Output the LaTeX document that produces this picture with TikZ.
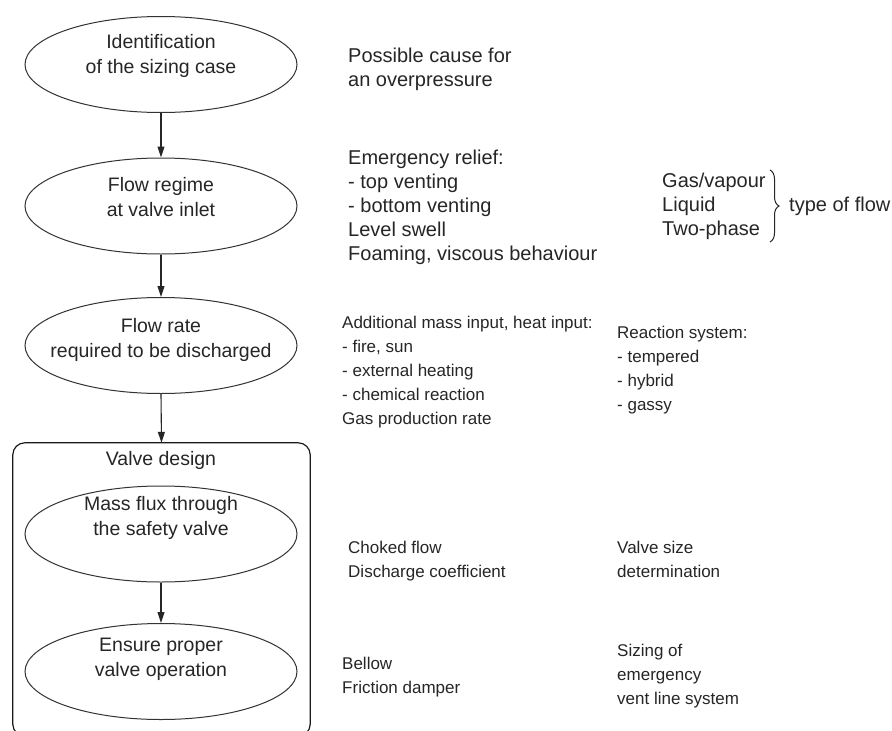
\documentclass[tikz,border=0pt]{standalone}
\usepackage{fontspec}
\setmainfont{Liberation Sans}
\usetikzlibrary{arrows.meta,calc,decorations.pathreplacing,shapes.geometric}
\begin{document}
\begin{tikzpicture}[x=1pt,y=-1pt,
  ell/.style={draw=black!80,line width=1pt,ellipse,minimum width=272pt,minimum height=96pt,inner sep=0pt},
  lbl/.style={align=center,font=\fontsize{19.5}{25}\selectfont,text=black!85,inner sep=0pt},
  note/.style={align=left,anchor=north west,font=\fontsize{20}{24}\selectfont,text=black!85,inner sep=0pt},
  smallnote/.style={note,font=\fontsize{17}{24}\selectfont},
  arr/.style={draw=black!85,line width=1.1pt,-{Triangle[length=11pt,width=7pt]}},
  frame/.style={draw=black!90,line width=1.2pt,rounded corners=12pt}]
\useasboundingbox (0,0) rectangle (892,731);
\fill[white] (0,0) rectangle (892,731);
% ellipses
\node[ell] (e1) at (161,64.5) {};
\node[ell] (e2) at (161,206) {};
\node[ell] (e3) at (161,345.5) {};
\node[ell] (e4) at (161,534) {};
\node[ell] (e5) at (161,671.5) {};
\node[lbl] (t1) at (161,56) {Identification\\of the sizing case};
\node[lbl] (t2) at (161,197) {Flow regime\\at valve inlet};
\node[lbl] (t3) at (161,339.5) {Flow rate\\required to be discharged};
\node[lbl] (t4) at (161,518) {Mass flux through\\the safety valve};
\node[lbl] (t5) at (161,659.5) {Ensure proper\\valve operation};
% frame
\node[inner sep=0pt,minimum width=297pt,minimum height=293pt] (box) at (161.5,589.5) {};
\draw[frame] (box.south west) rectangle (box.north east);
\node[lbl] (vd) at (161,460) {Valve design};
% arrows
\draw[arr] (e1.south) -- (e2.north);
\draw[arr] (e2.south) -- (e3.north);
\draw[arr] (e3.south) -- (box.north);
\draw[arr] (e4.south) -- (e5.north);
% notes
\node[note] (n1) at (348,48) {Possible cause for\\an overpressure};
\node[note] (n2) at (348,150) {Emergency relief:\\- top venting\\- bottom venting\\Level swell\\Foaming, viscous behaviour};
\node[note] (n3) at (662,173) {Gas/vapour\\Liquid\\Two-phase};
\draw[decorate,decoration={brace,amplitude=9pt},draw=black!85,line width=1pt] (770,170) -- (770,242);
\node[note,anchor=west] (n4) at (789,206) {type of flow};
\node[smallnote] (n5) at (342,316) {Additional mass input, heat input:\\- fire, sun\\- external heating\\- chemical reaction\\Gas production rate};
\node[smallnote] (n6) at (617,326) {Reaction system:\\- tempered\\- hybrid\\- gassy};
\node[smallnote] (n7) at (348,541) {Choked flow\\Discharge coefficient};
\node[smallnote] (n8) at (617,541) {Valve size\\determination};
\node[smallnote] (n9) at (342,657) {Bellow\\Friction damper};
\node[smallnote] (n10) at (617,644) {Sizing of\\emergency\\vent line system};
\end{tikzpicture}
\end{document}
